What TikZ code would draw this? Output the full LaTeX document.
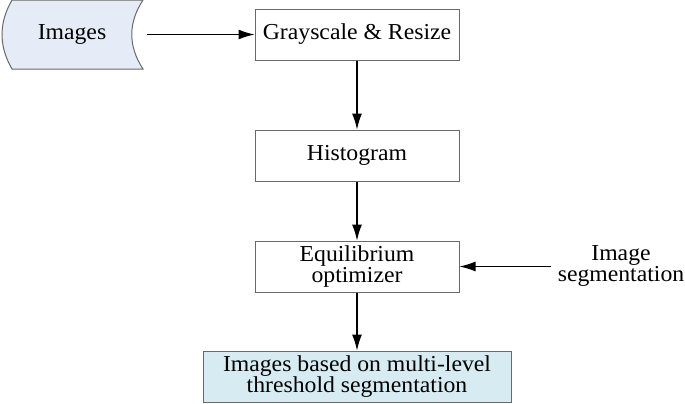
\documentclass[tikz,border=0pt]{standalone}
\usepackage{fontspec}
\setmainfont{Liberation Serif}[FakeStretch=1.04]
\usepackage{tikz}
\usetikzlibrary{arrows.meta}
\definecolor{storefill}{RGB}{230,236,247}
\definecolor{resultfill}{RGB}{214,236,242}
\definecolor{edgegray}{RGB}{105,105,105}
\tikzstyle{label_text}=[inner sep=0pt, align=center, font=\fontsize{11.4}{10.6}\selectfont]
\tikzstyle{proc_box}=[label_text, draw=edgegray, fill=white, line width=0.5pt,
    minimum width=102pt, minimum height=25.5pt]
\tikzstyle{result_box}=[proc_box, fill=resultfill, minimum width=154pt]
\tikzstyle{flow_arrow}=[-{Latex[length=8pt,width=5pt]}, line width=0.6pt, black]

\begin{document}
\begin{tikzpicture}[x=0.5pt, y=-0.5pt]
          \useasboundingbox (0,0) rectangle (685,403);
          % stored data shape
          \draw[fill=storefill, draw=edgegray, line width=0.5pt] (12,0) -- (143,0)
              .. controls (128,23) and (128,46) .. (143,69) -- (12,69)
              .. controls (-1.3,46) and (-1.3,23) .. (12,0) -- cycle;
          \node[label_text] (images) at (72,34.5){Images};
          \node[proc_box] (gray) at (357,34.5){Grayscale \& Resize};
          \node[proc_box] (hist) at (357,155.5){Histogram};
          \node[proc_box] (eqopt) at (357,266.5){Equilibrium\\optimizer};
          \node[result_box] (result) at (357,376.5){Images based on multi-level\\threshold segmentation};
          \node[label_text] (segin) at (621,266){Image\\segmentation};
          \coordinate (imgout) at (147,34.5);
          \coordinate (segout) at (551,266.5);
          \draw[flow_arrow](imgout) -- (gray.west);
          \draw[flow_arrow](gray) -- (hist);
          \draw[flow_arrow](hist) -- (eqopt);
          \draw[flow_arrow](eqopt) -- (result);
          \draw[flow_arrow](segout) -- (eqopt.east);
        \end{tikzpicture}
\end{document}
